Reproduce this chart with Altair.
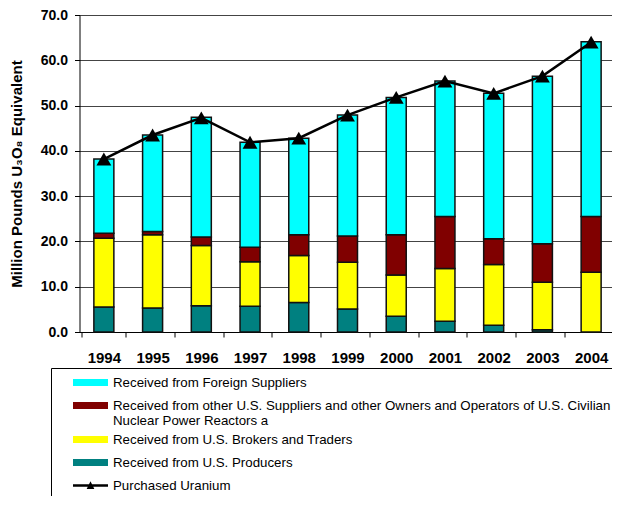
import altair as alt
import pandas as pd

years = ["1994", "1995", "1996", "1997", "1998", "1999", "2000", "2001", "2002", "2003", "2004"]
producers = [5.5, 5.3, 5.8, 5.7, 6.5, 5.1, 3.5, 2.4, 1.5, 0.5, 0.0]
brokers = [15.2, 16.2, 13.3, 9.8, 10.4, 10.3, 9.1, 11.6, 13.4, 10.5, 13.2]
other = [1.1, 0.7, 1.9, 3.2, 4.6, 5.8, 8.9, 11.5, 5.7, 8.5, 12.3]
foreign = [16.4, 21.3, 26.4, 23.2, 21.3, 26.7, 30.3, 29.9, 32.1, 37.0, 38.6]
purchased = [38.2, 43.5, 47.3, 41.9, 42.8, 47.9, 51.8, 55.4, 52.7, 56.5, 64.0]

s_foreign = "Received from Foreign Suppliers"
s_other = "Received from other U.S. Suppliers and other Owners and Operators of U.S. Civilian|Nuclear Power Reactors a"
s_brokers = "Received from U.S. Brokers and Traders"
s_producers = "Received from U.S. Producers"
s_purchased = "Purchased Uranium"

series_names = [s_foreign, s_other, s_brokers, s_producers, s_purchased]
series_colors = ["#00FFFF", "#800000", "#FFFF00", "#008080", "#000000"]
rect_path = "M-2.5,-0.5H2.5V0.5H-2.5Z"
line_path = "M-2.5,-0.18H2.5V0.18H-2.5Z M-0.55,0.5L0,-0.6L0.55,0.5Z"
series_shapes = [rect_path, rect_path, rect_path, rect_path, line_path]

rows = []
for i, y in enumerate(years):
    for order, (name, vals) in enumerate([(s_producers, producers), (s_brokers, brokers),
                                          (s_other, other), (s_foreign, foreign)]):
        rows.append({"year": y, "series": name, "value": vals[i], "ord": order})
bars_df = pd.DataFrame(rows)
line_df = pd.DataFrame({"year": years, "purchased": purchased})
legend_df = pd.DataFrame({"series": series_names})

FONT = "Liberation Sans"
YTITLE = "Million Pounds U\u2083O\u2088 Equivalent"

leg = dict(
    orient="none", legendX=-28.5, legendY=353,
    strokeColor="black", padding=3,
    symbolSize=196, symbolStrokeColor="black", symbolStrokeWidth=1.2, symbolOpacity=1,
    symbolOffset=28.5, labelOffset=14.5,
    labelFont=FONT, labelFontSize=13.3, labelColor="black", labelLimit=1000,
    labelExpr="split(datum.label, '|')",
    rowPadding=0, clipHeight=23,
    title=None,
)

fill_scale = alt.Scale(domain=series_names, range=series_colors)
shape_scale = alt.Scale(domain=series_names, range=series_shapes)

x_enc = alt.X("year:N", sort=years, title=None,
              axis=alt.Axis(labelAngle=0, tickBand="extent", tickSize=5, labelPadding=13,
                            labelFont=FONT, labelFontSize=15, labelFontWeight="bold",
                            labelColor="black", domainColor="black", tickColor="black",
                            grid=False))
y_axis = alt.Axis(values=[0, 10, 20, 30, 40, 50, 60, 70], format=".1f", tickSize=5,
                  labelPadding=7, labelFont=FONT, labelFontSize=14, labelFontWeight="bold",
                  labelColor="black", domainColor="black", tickColor="black",
                  grid=True, gridColor="#444444", gridWidth=1,
                  titleFont=FONT, titleFontSize=15, titleFontWeight="bold",
                  titleColor="black", titlePadding=16)
y_scale = alt.Scale(domain=[0, 70], nice=False)

bars = alt.Chart(bars_df).mark_bar(size=20, stroke="#111111", strokeWidth=1.5).encode(
    x=x_enc,
    y=alt.Y("sum(value):Q", scale=y_scale, axis=y_axis, title=YTITLE, stack="zero"),
    fill=alt.Fill("series:N", scale=fill_scale, legend=alt.Legend(**leg)),
    order=alt.Order("ord:Q", sort="ascending"),
)

line = alt.Chart(line_df).mark_line(color="black", strokeWidth=2.5).encode(
    x=alt.X("year:N", sort=years),
    y=alt.Y("purchased:Q", scale=y_scale, title=YTITLE),
)

pts = alt.Chart(line_df).mark_point(shape="triangle-up", filled=True, color="black",
                                    size=220, opacity=1).encode(
    x=alt.X("year:N", sort=years),
    y=alt.Y("purchased:Q", scale=y_scale, title=YTITLE),
)

legend_layer = alt.Chart(legend_df).mark_point(filled=True, opacity=0, size=10).encode(
    x=alt.value(0),
    y=alt.value(0),
    fill=alt.Fill("series:N", scale=fill_scale, legend=alt.Legend(**leg)),
    shape=alt.Shape("series:N", scale=shape_scale, legend=alt.Legend(**leg)),
)

chart = alt.layer(bars, line, pts, legend_layer).properties(
    width=536, height=317,
    padding={"left": 71.5, "top": 7, "right": -4, "bottom": 164},
    autosize=alt.AutoSizeParams(type="none"),
    background="white",
).configure_view(strokeWidth=0)

chart.save("out.html", embed_options={"renderer": "svg", "actions": False})
